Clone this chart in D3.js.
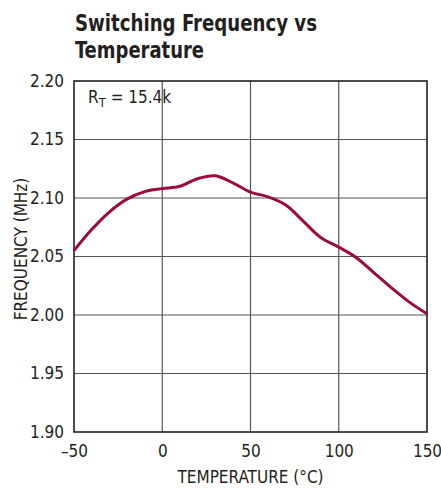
<!DOCTYPE html>
<html><head><meta charset="utf-8">
<script src="https://cdn.jsdelivr.net/npm/d3@7"></script>
<style>
html,body{margin:0;padding:0;background:#fff;}
svg text{font-family:"Liberation Sans Narrow","Arial Narrow","DejaVu Sans Condensed",sans-serif;}
</style></head>
<body>
<svg id="chart" width="441" height="492"></svg>
<script>
const titleLines = ["Switching Frequency vs", "Temperature"];
const temperature = [-50,-40,-30,-20,-10,0,10,20,30,40,50,60,70,80,90,100,110,120,130,140,150];
const frequency = [2.055,2.073,2.088,2.099,2.1055,2.108,2.110,2.1165,2.119,2.113,2.105,2.101,2.094,2.080,2.066,2.058,2.049,2.036,2.023,2.011,2.001];
const xTicks = [-50,0,50,100,150];
const yTicks = [1.90,1.95,2.00,2.05,2.10,2.15,2.20];
const xLabel = "TEMPERATURE (°C)";
const yLabel = "FREQUENCY (MHz)";

const svg = d3.select("#chart");
const m = {left:74, right:427, top:81, bottom:432};
const x = d3.scaleLinear().domain([-50,150]).range([m.left, m.right]);
const y = d3.scaleLinear().domain([1.90,2.20]).range([m.bottom, m.top]);

// title
const titleWidths = [242, 129];
svg.selectAll(".title").data(titleLines).join("text").attr("class","title")
  .attr("x",75).attr("y",(d,i)=>30.5 + i*27.5)
  .attr("textLength",(d,i)=>titleWidths[i]).attr("lengthAdjust","spacingAndGlyphs")
  .style("font-size","23.5px").style("font-weight","bold").attr("fill","#231f20")
  .text(d=>d);

// grid
const g = svg.append("g");
g.selectAll(".vg").data(xTicks.slice(1,-1)).join("line")
  .attr("x1",d=>x(d)).attr("x2",d=>x(d)).attr("y1",m.top).attr("y2",m.bottom)
  .attr("stroke","#555").attr("stroke-width",1.2);
g.selectAll(".hg").data(yTicks.slice(1,-1)).join("line")
  .attr("x1",m.left).attr("x2",m.right).attr("y1",d=>y(d)).attr("y2",d=>y(d))
  .attr("stroke","#555").attr("stroke-width",1.2);
g.append("rect").attr("x",m.left).attr("y",m.top)
  .attr("width",m.right-m.left).attr("height",m.bottom-m.top)
  .attr("fill","none").attr("stroke","#231f20").attr("stroke-width",1.6);

// axes using d3 axis generators (no tick marks / domain)
const xAxis = svg.append("g").attr("transform",`translate(0,${m.bottom})`)
  .call(d3.axisBottom(x).tickValues(xTicks).tickSize(0).tickPadding(10)
    .tickFormat(d=> d<0 ? "\u2013"+Math.abs(d) : String(d)));
const yAxis = svg.append("g").attr("transform",`translate(${m.left},0)`)
  .call(d3.axisLeft(y).tickValues(yTicks).tickSize(0).tickPadding(10).tickFormat(d3.format(".2f")));
[xAxis,yAxis].forEach(a=>{
  a.select(".domain").remove();
  a.selectAll("text").style("font-size","17px").attr("fill","#231f20")
   .style("font-family",'"Liberation Sans Narrow","Arial Narrow","DejaVu Sans Condensed",sans-serif');
});
xAxis.selectAll("text").attr("dy","0.9em");

svg.append("text").attr("x",(m.left+m.right)/2).attr("y",483)
  .attr("text-anchor","middle").style("font-size","17px").attr("fill","#231f20").text(xLabel);
svg.append("text").attr("transform",`translate(27,249) rotate(-90)`)
  .attr("text-anchor","middle").style("font-size","17px").attr("fill","#231f20").text(yLabel);

// annotation
const ann = svg.append("text").attr("x",88).attr("y",103).style("font-size","17px").attr("fill","#231f20");
ann.append("tspan").text("R");
ann.append("tspan").attr("dy",4).style("font-size","13px").text("T");
ann.append("tspan").attr("dy",-4).text(" = 15.4k");

// curve
const line = d3.line().x((d,i)=>x(temperature[i])).y(d=>y(d)).curve(d3.curveCatmullRom.alpha(0.5));
svg.append("path").datum(frequency).attr("d",line)
  .attr("fill","none").attr("stroke","#9b0b35").attr("stroke-width",3).attr("stroke-linejoin","round");
</script>
</body></html>
